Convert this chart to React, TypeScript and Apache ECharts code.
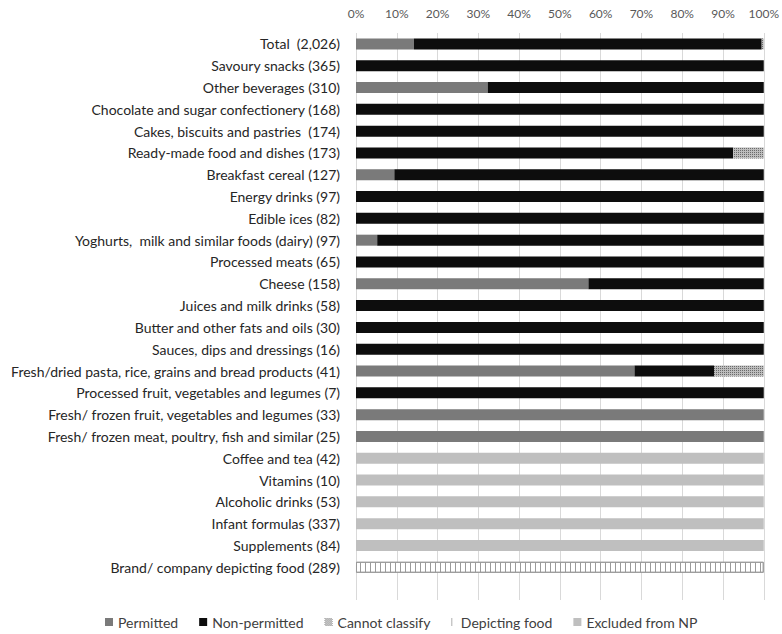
import React, { useEffect, useRef } from "react";
import * as echarts from "echarts";

const categories = [
  "Total  (2,026)",
  "Savoury snacks (365)",
  "Other beverages (310)",
  "Chocolate and sugar confectionery (168)",
  "Cakes, biscuits and pastries  (174)",
  "Ready-made food and dishes (173)",
  "Breakfast cereal (127)",
  "Energy drinks (97)",
  "Edible ices (82)",
  "Yoghurts,  milk and similar foods (dairy) (97)",
  "Processed meats (65)",
  "Cheese (158)",
  "Juices and milk drinks (58)",
  "Butter and other fats and oils (30)",
  "Sauces, dips and dressings (16)",
  "Fresh/dried pasta, rice, grains and bread products (41)",
  "Processed fruit, vegetables and legumes (7)",
  "Fresh/ frozen fruit, vegetables and legumes (33)",
  "Fresh/ frozen meat, poultry, fish and similar (25)",
  "Coffee and tea (42)",
  "Vitamins (10)",
  "Alcoholic drinks (53)",
  "Infant formulas (337)",
  "Supplements (84)",
  "Brand/ company depicting food (289)",
  "",
];

const permitted = [14.2, 0, 32.3, 0, 0, 0, 9.4, 0, 0, 5.2, 0, 57.0, 0, 0, 0, 68.3, 0, 100, 100, 0, 0, 0, 0, 0, 0, 0];
const nonPermitted = [85.3, 100, 67.7, 100, 100, 92.5, 90.6, 100, 100, 94.8, 100, 43.0, 100, 100, 100, 19.5, 100, 0, 0, 0, 0, 0, 0, 0, 0, 0];
const cannotClassify = [0.5, 0, 0, 0, 0, 7.5, 0, 0, 0, 0, 0, 0, 0, 0, 0, 12.2, 0, 0, 0, 0, 0, 0, 0, 0, 0, 0];
const depictingFood = [0, 0, 0, 0, 0, 0, 0, 0, 0, 0, 0, 0, 0, 0, 0, 0, 0, 0, 0, 0, 0, 0, 0, 0, 100, 0];
const excludedFromNP = [0, 0, 0, 0, 0, 0, 0, 0, 0, 0, 0, 0, 0, 0, 0, 0, 0, 0, 0, 100, 100, 100, 100, 100, 0, 0];

const seriesNames = ["Permitted", "Non-permitted", "Cannot classify", "Depicting food", "Excluded from NP"];

const FONT = "Lato";

function checkerIcon(): string {
  let d = "";
  for (let r = 0; r < 8; r++) {
    for (let c = 0; c < 8; c++) {
      if ((r + c) % 2 === 0) d += `M${c} ${r}h1v1h-1Z`;
    }
  }
  return "path://" + d;
}

const nz = (arr: number[]) => arr.map((v) => (v === 0 ? "-" : v));

export default function App() {
  const ref = useRef<HTMLDivElement>(null);
  useEffect(() => {
    if (!ref.current) return;
    const chart = echarts.init(ref.current, null, { renderer: "svg" });
    const barWidth = 11;
    chart.setOption({
      animation: false,
      textStyle: { fontFamily: FONT },
      grid: { left: 356, right: 18, top: 33, bottom: 34 },
      xAxis: {
        type: "value",
        position: "top",
        min: 0,
        max: 100,
        interval: 10,
        axisLine: { show: false },
        axisTick: { show: false },
        axisLabel: { formatter: "{value}%", color: "#595959", fontSize: 12, margin: 14, fontFamily: FONT },
        splitLine: { lineStyle: { color: "#d9d9d9", width: 1 } },
      },
      yAxis: {
        type: "category",
        inverse: true,
        data: categories,
        axisLine: { show: false },
        axisTick: { show: false },
        axisLabel: { color: "#262626", fontSize: 14, margin: 16, fontFamily: FONT },
      },
      legend: {
        top: 610,
        left: 100,
        itemWidth: 8,
        itemHeight: 8,
        itemGap: 21,
        textStyle: { color: "#404040", fontSize: 14, fontFamily: FONT },
        data: [
          { name: "Permitted", icon: "rect" },
          { name: "Non-permitted", icon: "rect" },
          { name: "Cannot classify", icon: checkerIcon(), itemStyle: { color: "#7a7a7a", decal: "none" } },
          { name: "Depicting food", icon: "path://M0 0H1V10H0Z", itemStyle: { color: "#9a9a9a", decal: "none", borderWidth: 0 } },
          { name: "Excluded from NP", icon: "rect" },
        ],
      },
      series: [
        {
          name: seriesNames[0],
          type: "bar",
          stack: "s",
          barWidth,
          data: nz(permitted),
          itemStyle: { color: "#7a7a7a" },
        },
        {
          name: seriesNames[1],
          type: "bar",
          stack: "s",
          barWidth,
          data: nz(nonPermitted),
          itemStyle: { color: "#0d0d0d" },
        },
        {
          name: seriesNames[2],
          type: "bar",
          stack: "s",
          barWidth,
          data: nz(cannotClassify),
          itemStyle: {
            color: "#bdbdbd",
            decal: {
              symbol: "rect",
              symbolSize: 1,
              dashArrayX: [1, 1],
              dashArrayY: [1, 1],
              color: "#6a6a6a",
              backgroundColor: "#d8d8d8",
            },
          },
        },
        {
          name: seriesNames[3],
          type: "bar",
          stack: "s",
          barWidth,
          data: nz(depictingFood),
          itemStyle: {
            color: "#ffffff",
            borderColor: "#9a9a9a",
            borderWidth: 1,
            decal: {
              symbol: "rect",
              symbolSize: 1,
              dashArrayX: [1, 3.2],
              dashArrayY: [10, 0],
              color: "#9a9a9a",
              backgroundColor: "#ffffff",
            },
          },
        },
        {
          name: seriesNames[4],
          type: "bar",
          stack: "s",
          barWidth,
          data: nz(excludedFromNP),
          itemStyle: { color: "#bfbfbf" },
        },
      ],
    });
    return () => chart.dispose();
  }, []);
  return (
    <div
      ref={ref}
      style={{ position: "fixed", left: 0, top: 0, width: 782, height: 634, background: "#fff" }}
    />
  );
}
